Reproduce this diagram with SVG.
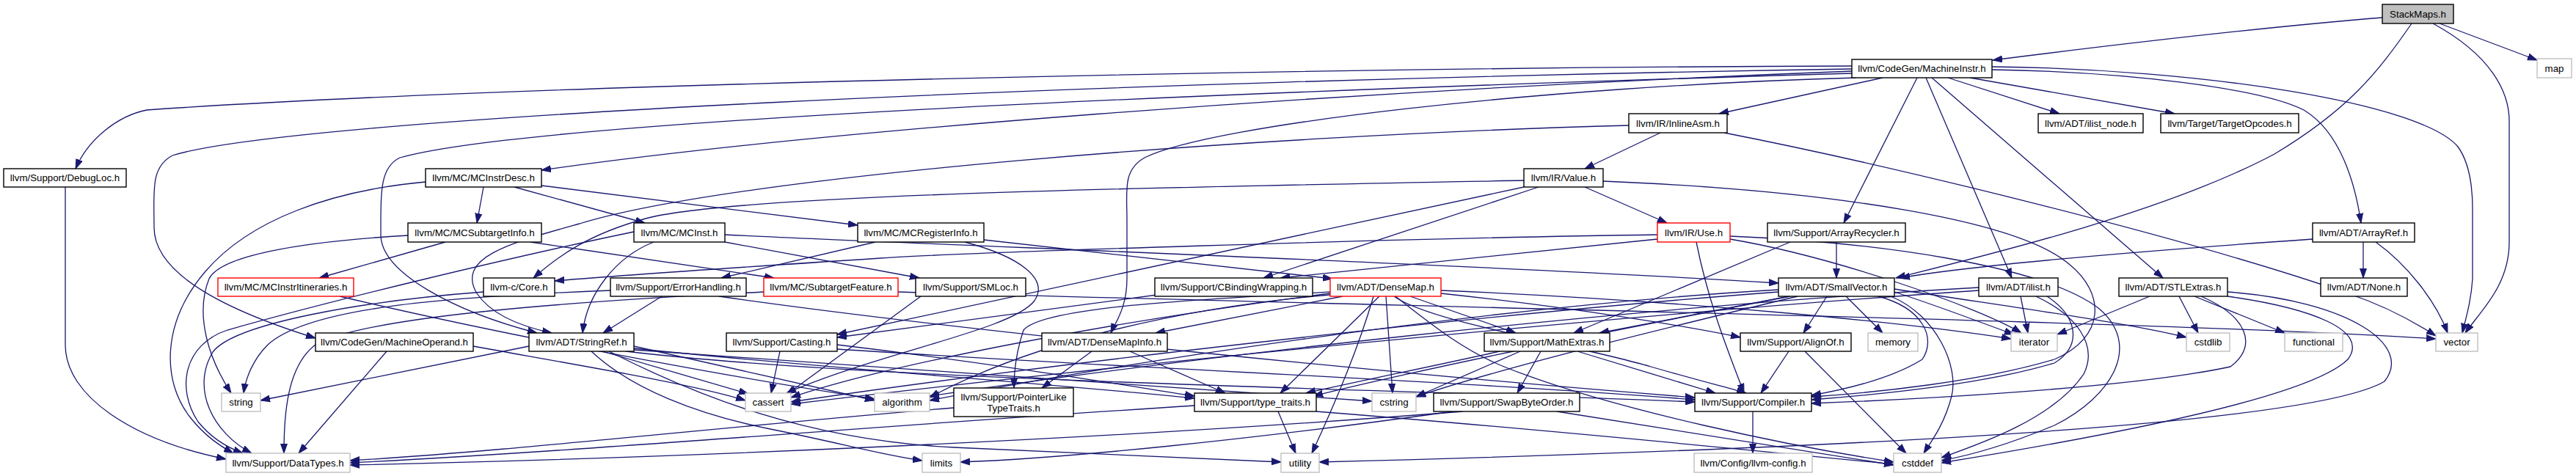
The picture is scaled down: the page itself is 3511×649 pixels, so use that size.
<svg xmlns="http://www.w3.org/2000/svg" width="3511" height="649" viewBox="0 0 3511 649">
<style>
.n rect{fill:#fff;stroke:#000;stroke-width:1.4}
.g rect{stroke:#bfbfbf}
.r rect{stroke:#ff0000}
.s rect{fill:#bfbfbf}
text{font-family:"Liberation Sans",Arial,sans-serif;font-size:13.3px;text-anchor:middle;fill:#000}
.e path{fill:none;stroke:#191970;stroke-width:1.3;marker-end:url(#a)}
</style>
<defs>
<marker id="a" markerWidth="14" markerHeight="10" refX="13" refY="5" orient="auto" markerUnits="userSpaceOnUse"><path d="M0,0.5 L13,5 L0,9.5 z" fill="#191970" stroke="#191970" stroke-width="1"/></marker>
</defs>
<rect width="3511" height="649" fill="#fff"/>
<g id="edges" class="e">
<path d="M3247,24 C3050,40 2850,65 2716,82"/>
<path d="M3287,32 C3240,100 3200,150 3100,210 C2950,290 2700,350 2584,379"/>
<path d="M3316,32 C3395,75 3420,125 3420,165 L3420,330 C3420,390 3380,425 3360,454"/>
<path d="M3325,32 L3458,82"/>
<path d="M2524,90 C1800,92 700,115 200,150 C160,158 120,190 103,230"/>
<path d="M2524,94 C1500,110 400,160 235,212 C205,228 210,260 210,310 C210,380 330,430 430,461"/>
<path d="M2524,97 C1800,125 1100,180 738,232"/>
<path d="M2524,100 C1500,130 700,170 545,215 C518,228 519,260 519,320 C519,372 620,425 732,454"/>
<path d="M2530,106 C2100,118 1650,170 1560,215 C1530,232 1536,260 1536,300 L1536,380 C1536,420 1520,440 1514,454"/>
<path d="M2566,106 L2343,155"/>
<path d="M2613,106 L2513,304"/>
<path d="M2625,106 L2742,379"/>
<path d="M2633,106 L2948,379"/>
<path d="M2655,106 L2807,155"/>
<path d="M2685,106 L2964,155"/>
<path d="M2715,95 C2900,98 3080,120 3140,150 C3190,180 3210,250 3218,304"/>
<path d="M2715,91 C3000,94 3300,140 3350,200 C3368,225 3370,260 3370,285 L3370,380 C3368,410 3362,430 3356,454"/>
<path d="M2220,171 C1700,185 1000,240 790,305 C700,330 620,350 650,400 C670,430 710,445 752,454"/>
<path d="M2263,181 L2160,230"/>
<path d="M2350,181 C2600,230 3000,330 3200,400 C3260,420 3300,445 3320,458"/>
<path d="M2160,255 L2272,304"/>
<path d="M2077,246 C1600,255 1000,265 880,298 C800,320 760,350 727,379"/>
<path d="M2097,255 L1722,379"/>
<path d="M2077,255 L1141,456"/>
<path d="M2185,247 C2500,260 2750,300 2820,360 C2870,400 2870,460 2800,490 C2700,520 2560,535 2469,541"/>
<path d="M2259,320 C1900,325 1300,345 1200,352 C1000,365 850,375 756,383"/>
<path d="M2259,326 L1745,379"/>
<path d="M2312,330 C2330,420 2360,490 2377,536"/>
<path d="M2358,326 C2500,350 2700,420 2755,454"/>
<path d="M2358,322 C2550,330 2780,360 2860,420 C2920,470 2880,540 2800,580 C2740,605 2690,620 2646,628"/>
<path d="M659,255 L650,304"/>
<path d="M701,255 L879,304"/>
<path d="M738,253 L1169,307"/>
<path d="M580,248 C450,260 340,300 280,370 C220,440 220,520 260,570 C280,595 300,608 318,618"/>
<path d="M607,330 L435,379"/>
<path d="M723,330 L1055,379"/>
<path d="M556,321 C400,330 300,350 285,380 C265,430 285,490 315,536"/>
<path d="M463,404 C700,460 1000,515 1192,544"/>
<path d="M891,330 C840,350 800,400 794,454"/>
<path d="M864,316 C700,350 450,410 310,450 C250,470 240,530 270,575 C290,600 315,612 331,618"/>
<path d="M988,330 L1253,379"/>
<path d="M988,320 C1300,335 2000,360 2424,386"/>
<path d="M1341,327 L1816,380"/>
<path d="M1193,330 L983,379"/>
<path d="M1315,330 C1390,350 1430,380 1410,410 C1380,450 1200,480 1072,536"/>
<path d="M1041,398 C800,410 500,430 430,470 C390,500 387,570 387,618"/>
<path d="M1224,398 C2000,420 3000,440 3320,462"/>
<path d="M832,396 C600,405 420,420 365,470 C345,490 335,515 332,536"/>
<path d="M902,404 L822,454"/>
<path d="M980,404 C1300,450 1900,510 2310,542"/>
<path d="M659,398 C500,410 320,440 290,480 C260,530 290,590 343,618"/>
<path d="M721,472 L355,546"/>
<path d="M821,479 L1020,537"/>
<path d="M864,472 L1192,546"/>
<path d="M864,475 C1100,500 1400,520 1628,543"/>
<path d="M864,477 C1200,500 1600,530 1870,547"/>
<path d="M806,479 C860,530 950,565 1050,585 C1150,605 1200,620 1257,628"/>
<path d="M830,479 C950,540 1100,600 1300,610 C1500,620 1650,625 1746,630"/>
<path d="M853,479 C1200,520 1900,530 2310,548"/>
<path d="M1063,479 L1051,536"/>
<path d="M1141,470 C1350,495 1500,520 1628,540"/>
<path d="M1141,476 C1500,500 2000,520 2310,545"/>
<path d="M1830,404 L1575,454"/>
<path d="M1964,400 C2150,420 2300,445 2372,460"/>
<path d="M1922,404 L2066,454"/>
<path d="M1900,404 C1950,440 2150,470 2250,500 C2320,520 2360,530 2380,536"/>
<path d="M1889,404 L1898,536"/>
<path d="M1880,404 L1745,536"/>
<path d="M1813,398 C1600,410 1420,420 1395,450 C1385,480 1382,505 1382,529"/>
<path d="M1813,402 C1600,420 1400,470 1267,542"/>
<path d="M1813,400 C1500,440 1200,500 1078,542"/>
<path d="M1902,404 C1960,450 2000,480 2050,500 C2200,560 2450,610 2581,630"/>
<path d="M1872,404 C1850,480 1815,560 1788,618"/>
<path d="M1964,396 C2300,410 2600,440 2741,462"/>
<path d="M1488,479 L1420,529"/>
<path d="M1540,479 L1670,536"/>
<path d="M1300,556 C1000,580 700,615 477,628"/>
<path d="M1742,561 L1766,618"/>
<path d="M1628,553 C1200,580 800,615 477,631"/>
<path d="M1794,561 C2100,585 2400,615 2581,633"/>
<path d="M2150,479 L2338,536"/>
<path d="M2100,479 L2068,536"/>
<path d="M2072,479 L1930,541"/>
<path d="M2044,479 C1950,500 1850,520 1780,536"/>
<path d="M1994,561 C1500,600 900,625 477,634"/>
<path d="M1980,561 C1700,600 1450,625 1309,630"/>
<path d="M2122,561 L2581,634"/>
<path d="M2438,479 L2400,536"/>
<path d="M2460,479 L2598,618"/>
<path d="M2389,561 L2389,618"/>
<path d="M2490,404 L2458,454"/>
<path d="M2516,404 L2566,454"/>
<path d="M2438,404 L2180,454"/>
<path d="M2560,404 C2620,420 2640,460 2620,490 C2580,515 2520,530 2469,539"/>
<path d="M2577,404 C2640,430 2670,500 2660,540 C2650,580 2630,605 2622,618"/>
<path d="M2582,398 C2650,420 2700,440 2745,456"/>
<path d="M2582,394 C2750,420 2900,440 2980,460"/>
<path d="M2424,395 C2000,420 1500,500 1267,546"/>
<path d="M2424,398 C2000,430 1400,500 1078,548"/>
<path d="M2450,404 C2300,440 2050,500 1930,541"/>
<path d="M2440,404 C2200,450 1950,500 1790,540"/>
<path d="M2503,330 L2503,379"/>
<path d="M2440,330 L2145,454"/>
<path d="M2754,404 L2764,454"/>
<path d="M2775,404 C2830,430 2860,470 2840,510 C2800,570 2700,605 2646,624"/>
<path d="M2790,404 C2830,430 2840,470 2800,495 C2700,525 2560,538 2469,545"/>
<path d="M2697,392 C2200,420 1600,490 1267,540"/>
<path d="M2697,396 C2200,430 1500,500 1078,551"/>
<path d="M2930,404 L2804,456"/>
<path d="M2970,404 L2996,454"/>
<path d="M2991,404 L3114,454"/>
<path d="M3036,404 C3150,420 3230,450 3200,490 C3150,540 2900,590 2646,631"/>
<path d="M3000,404 C3060,430 3080,470 3040,500 C2900,530 2600,545 2469,550"/>
<path d="M3036,398 C3200,410 3290,470 3250,520 C3150,580 2500,612 1798,630"/>
<path d="M3221,330 L3221,379"/>
<path d="M3238,330 C3280,360 3320,410 3336,454"/>
<path d="M3152,326 C2950,340 2700,360 2590,379"/>
<path d="M527,479 L407,618"/>
<path d="M645,472 C800,500 950,525 1016,546"/>
<path d="M89,255 L89,470 C89,540 180,600 308,626"/>
<path d="M1255,404 L1072,538"/>
<path d="M1577,402 L1141,460"/>
</g>
<g id="StackMaps" class="n s"><rect x="3247" y="6" width="97" height="26"/><text x="3295.5" y="23.6">StackMaps.h</text></g>
<g id="map" class="n g"><rect x="3458" y="80" width="47" height="26"/><text x="3481.5" y="97.6">map</text></g>
<g id="MachineInstr" class="n"><rect x="2524" y="81" width="191" height="25"/><text x="2619.5" y="98.1">llvm/CodeGen/MachineInstr.h</text></g>
<g id="InlineAsm" class="n"><rect x="2220" y="155" width="134" height="26"/><text x="2287" y="172.6">llvm/IR/InlineAsm.h</text></g>
<g id="ilist_node" class="n"><rect x="2778" y="155" width="143" height="26"/><text x="2849.5" y="172.6">llvm/ADT/ilist_node.h</text></g>
<g id="TargetOpcodes" class="n"><rect x="2945" y="155" width="188" height="26"/><text x="3039" y="172.6">llvm/Target/TargetOpcodes.h</text></g>
<g id="DebugLoc" class="n"><rect x="5" y="230" width="167" height="25"/><text x="88.5" y="247.1">llvm/Support/DebugLoc.h</text></g>
<g id="MCInstrDesc" class="n"><rect x="580" y="230" width="158" height="25"/><text x="659" y="247.1">llvm/MC/MCInstrDesc.h</text></g>
<g id="Value" class="n"><rect x="2077" y="230" width="108" height="25"/><text x="2131" y="247.1">llvm/IR/Value.h</text></g>
<g id="MCSubtargetInfo" class="n"><rect x="556" y="304" width="182" height="26"/><text x="647" y="321.6">llvm/MC/MCSubtargetInfo.h</text></g>
<g id="MCInst" class="n"><rect x="864" y="304" width="124" height="26"/><text x="926" y="321.6">llvm/MC/MCInst.h</text></g>
<g id="MCRegisterInfo" class="n"><rect x="1169" y="304" width="172" height="26"/><text x="1255" y="321.6">llvm/MC/MCRegisterInfo.h</text></g>
<g id="Use" class="n r"><rect x="2259" y="304" width="99" height="26"/><text x="2308.5" y="321.6">llvm/IR/Use.h</text></g>
<g id="ArrayRecycler" class="n"><rect x="2409" y="304" width="188" height="26"/><text x="2503" y="321.6">llvm/Support/ArrayRecycler.h</text></g>
<g id="ArrayRef" class="n"><rect x="3152" y="304" width="139" height="26"/><text x="3221.5" y="321.6">llvm/ADT/ArrayRef.h</text></g>
<g id="MCInstrItineraries" class="n r"><rect x="297" y="379" width="185" height="25"/><text x="389.5" y="396.1">llvm/MC/MCInstrItineraries.h</text></g>
<g id="Core" class="n"><rect x="659" y="379" width="97" height="25"/><text x="707.5" y="396.1">llvm-c/Core.h</text></g>
<g id="ErrorHandling" class="n"><rect x="832" y="379" width="185" height="25"/><text x="924.5" y="396.1">llvm/Support/ErrorHandling.h</text></g>
<g id="SubtargetFeature" class="n r"><rect x="1041" y="379" width="183" height="25"/><text x="1132.5" y="396.1">llvm/MC/SubtargetFeature.h</text></g>
<g id="SMLoc" class="n"><rect x="1248" y="379" width="150" height="25"/><text x="1323" y="396.1">llvm/Support/SMLoc.h</text></g>
<g id="CBindingWrapping" class="n"><rect x="1574" y="379" width="215" height="25"/><text x="1681.5" y="396.1">llvm/Support/CBindingWrapping.h</text></g>
<g id="DenseMap" class="n r"><rect x="1813" y="379" width="151" height="25"/><text x="1888.5" y="396.1">llvm/ADT/DenseMap.h</text></g>
<g id="SmallVector" class="n"><rect x="2424" y="379" width="158" height="25"/><text x="2503" y="396.1">llvm/ADT/SmallVector.h</text></g>
<g id="ilist" class="n"><rect x="2697" y="379" width="108" height="25"/><text x="2751" y="396.1">llvm/ADT/ilist.h</text></g>
<g id="STLExtras" class="n"><rect x="2888" y="379" width="148" height="25"/><text x="2962" y="396.1">llvm/ADT/STLExtras.h</text></g>
<g id="None" class="n"><rect x="3163" y="379" width="118" height="25"/><text x="3222" y="396.1">llvm/ADT/None.h</text></g>
<g id="MachineOperand" class="n"><rect x="430" y="454" width="215" height="25"/><text x="537.5" y="471.1">llvm/CodeGen/MachineOperand.h</text></g>
<g id="StringRef" class="n"><rect x="721" y="454" width="143" height="25"/><text x="792.5" y="471.1">llvm/ADT/StringRef.h</text></g>
<g id="Casting" class="n"><rect x="990" y="454" width="151" height="25"/><text x="1065.5" y="471.1">llvm/Support/Casting.h</text></g>
<g id="DenseMapInfo" class="n"><rect x="1420" y="454" width="171" height="25"/><text x="1505.5" y="471.1">llvm/ADT/DenseMapInfo.h</text></g>
<g id="MathExtras" class="n"><rect x="2023" y="454" width="171" height="25"/><text x="2108.5" y="471.1">llvm/Support/MathExtras.h</text></g>
<g id="AlignOf" class="n"><rect x="2372" y="454" width="151" height="25"/><text x="2447.5" y="471.1">llvm/Support/AlignOf.h</text></g>
<g id="memory" class="n g"><rect x="2546" y="454" width="68" height="25"/><text x="2580" y="471.1">memory</text></g>
<g id="iterator" class="n g"><rect x="2741" y="454" width="63" height="25"/><text x="2772.5" y="471.1">iterator</text></g>
<g id="cstdlib" class="n g"><rect x="2980" y="454" width="59" height="25"/><text x="3009.5" y="471.1">cstdlib</text></g>
<g id="functional" class="n g"><rect x="3114" y="454" width="79" height="25"/><text x="3153.5" y="471.1">functional</text></g>
<g id="vector" class="n g"><rect x="3320" y="454" width="57" height="25"/><text x="3348.5" y="471.1">vector</text></g>
<g id="string" class="n g"><rect x="302" y="536" width="53" height="25"/><text x="328.5" y="553.1">string</text></g>
<g id="cassert" class="n g"><rect x="1016" y="536" width="62" height="25"/><text x="1047" y="553.1">cassert</text></g>
<g id="algorithm" class="n g"><rect x="1192" y="536" width="75" height="25"/><text x="1229.5" y="553.1">algorithm</text></g>
<g id="PointerLikeTypeTraits" class="n"><rect x="1300" y="529" width="163" height="39"/><text x="1381.5" y="545.6">llvm/Support/PointerLike</text><text x="1381.5" y="560.6">TypeTraits.h</text></g>
<g id="type_traits" class="n"><rect x="1628" y="536" width="166" height="25"/><text x="1711" y="553.1">llvm/Support/type_traits.h</text></g>
<g id="cstring" class="n g"><rect x="1870" y="536" width="60" height="25"/><text x="1900" y="553.1">cstring</text></g>
<g id="SwapByteOrder" class="n"><rect x="1954" y="536" width="199" height="25"/><text x="2053.5" y="553.1">llvm/Support/SwapByteOrder.h</text></g>
<g id="Compiler" class="n"><rect x="2310" y="536" width="159" height="25"/><text x="2389.5" y="553.1">llvm/Support/Compiler.h</text></g>
<g id="DataTypes" class="n g"><rect x="308" y="618" width="169" height="26"/><text x="392.5" y="635.6">llvm/Support/DataTypes.h</text></g>
<g id="limits" class="n g"><rect x="1257" y="618" width="52" height="26"/><text x="1283" y="635.6">limits</text></g>
<g id="utility" class="n g"><rect x="1746" y="618" width="52" height="26"/><text x="1772" y="635.6">utility</text></g>
<g id="llvm-config" class="n g"><rect x="2309" y="618" width="161" height="26"/><text x="2389.5" y="635.6">llvm/Config/llvm-config.h</text></g>
<g id="cstddef" class="n g"><rect x="2581" y="618" width="65" height="26"/><text x="2613.5" y="635.6">cstddef</text></g>
</svg>
